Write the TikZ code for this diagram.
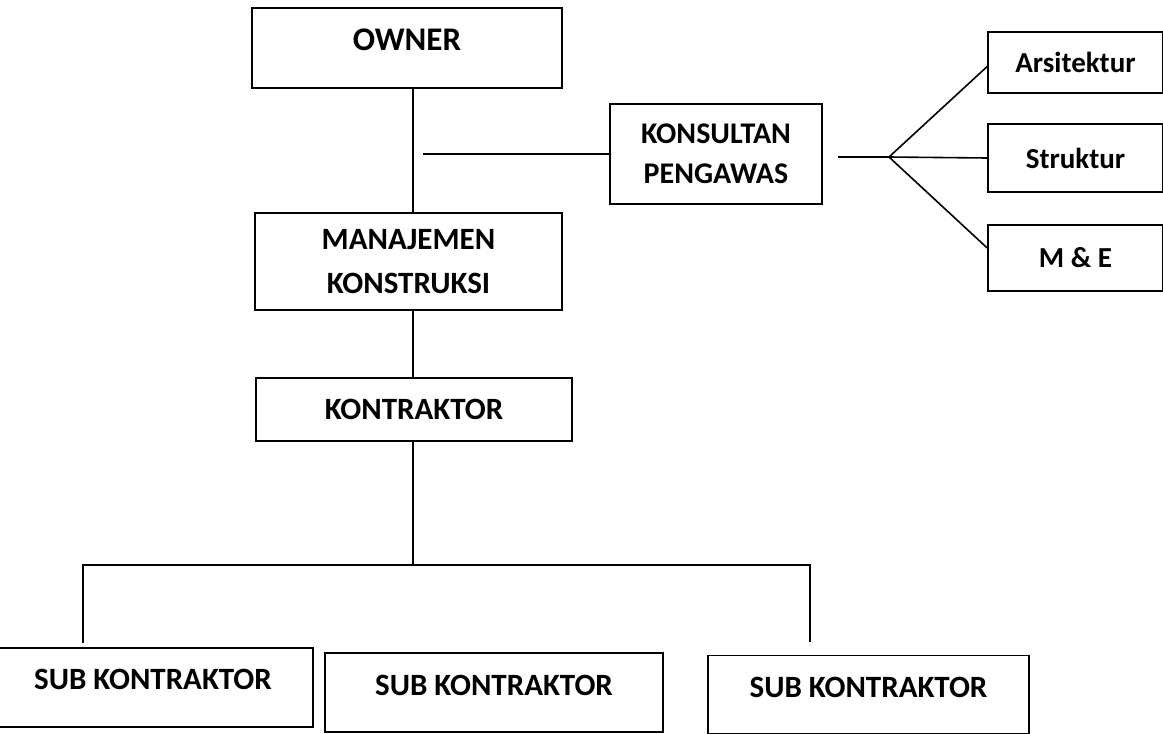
\documentclass[tikz,border=0pt]{standalone}
\usepackage{fontspec}
\setmainfont{Carlito}
\begin{document}
\begin{tikzpicture}[x=1pt,y=-1pt,
  box/.style={draw=black, line width=1.6pt, rectangle, inner sep=0pt, align=center, font=\bfseries},
  lbl/.style={font=\bfseries, inner sep=0pt},
  con/.style={draw=black, line width=1.6pt},
  fkp/.style={font=\bfseries\fontsize{30}{40}\selectfont},
  fr/.style={font=\bfseries\fontsize{29}{40}\selectfont},
  fmk/.style={font=\bfseries\fontsize{31}{44}\selectfont},
  fsub/.style={font=\bfseries\fontsize{31}{44}\selectfont},
  fown/.style={font=\bfseries\fontsize{33}{44}\selectfont}]
\useasboundingbox (0,0) rectangle (1163,734);
\fill[white] (0,0) rectangle (1163,734);
\begin{scope}
\clip (0,0) rectangle (1163,734);
% boxes
\node[box, minimum width=310pt, minimum height=80pt,
      label={[lbl,fown,yshift=8pt]center:OWNER}] (owner) at (407,48) {};
\node[box, fmk, minimum width=307pt, minimum height=97pt] (mk) at (408.5,261.5)
      {MANAJEMEN\\KONSTRUKSI};
\node[box, fkp, minimum width=212pt, minimum height=100pt] (kp) at (716,154)
      {KONSULTAN\\PENGAWAS};
\node[box, fr, minimum width=175pt, minimum height=61pt] (ars) at (1075.5,62.5) {Arsitektur};
\node[box, fr, minimum width=175pt, minimum height=68pt] (str) at (1075.5,158) {Struktur};
\node[box, fr, minimum width=175pt, minimum height=66pt] (me) at (1075.5,258) {M \& E};
\node[box, fsub, minimum width=316pt, minimum height=63pt] (kon) at (414,409.5) {KONTRAKTOR};
\node[box, minimum width=320pt, minimum height=79pt,
      label={[lbl,fsub,yshift=8pt]center:SUB KONTRAKTOR}] (sub1) at (153,687.5) {};
\node[box, minimum width=338pt, minimum height=79pt,
      label={[lbl,fsub,yshift=7pt]center:SUB KONTRAKTOR}] (sub2) at (494,692.5) {};
\node[box, minimum width=321pt, minimum height=78pt,
      label={[lbl,fsub,yshift=7pt]center:SUB KONTRAKTOR}] (sub3) at (868.5,694.5) {};
% coordinates
\coordinate (spine) at (413,0);
\coordinate (kpL) at (423,154);
\coordinate (kpR) at (838,157);
\coordinate (fan) at (889,157);
\coordinate (busL) at (83,565);
\coordinate (busM) at (413,565);
\coordinate (busR) at (810,565);
\coordinate (d1) at (83,643);
\coordinate (d3) at (810,642);
% connectors
\draw[con] (owner.south -| spine) -- (mk.north -| spine);
\draw[con] (mk.south -| spine) -- (kon.north -| spine);
\draw[con] (kon.south -| spine) -- (busM);
\draw[con] (d1) -- (busL) -- (busR) -- (d3);
\draw[con] (kpL) -- (kp.west);
\draw[con] (kpR) -- (fan);
\draw[con] (fan) -- ([yshift=-4pt]ars.west);
\draw[con] (fan) -- (str.west);
\draw[con] (fan) -- ([yshift=10pt]me.west);
\end{scope}
\end{tikzpicture}
\end{document}
